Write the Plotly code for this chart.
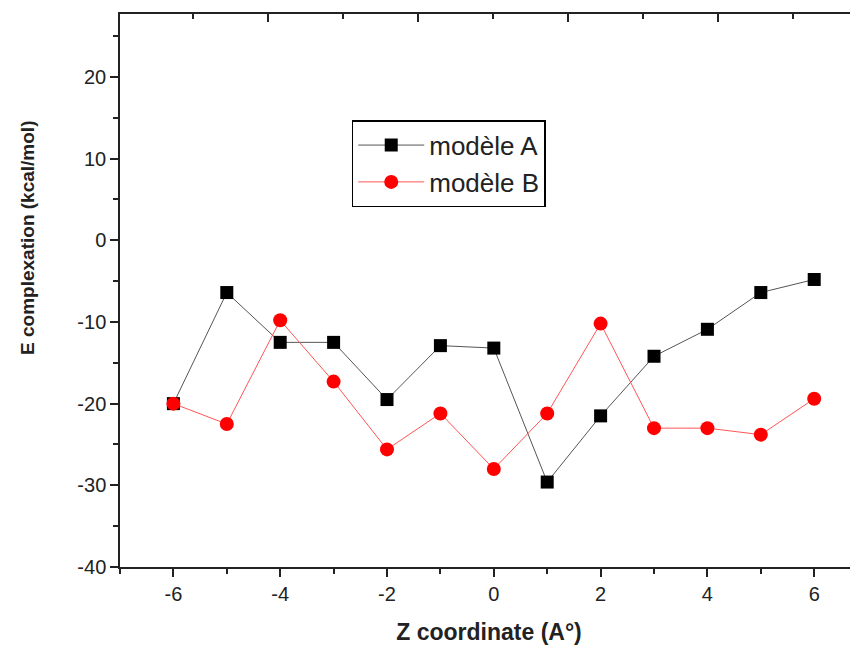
import plotly.graph_objects as go

z = [-6, -5, -4, -3, -2, -1, 0, 1, 2, 3, 4, 5, 6]
model_a = [-20.0, -6.4, -12.5, -12.5, -19.5, -12.9, -13.2, -29.6, -21.5, -14.2, -10.9, -6.4, -4.8]
model_b = [-20.0, -22.5, -9.8, -17.3, -25.6, -21.2, -28.0, -21.2, -10.2, -23.0, -23.0, -23.8, -19.4]

x_tickvals = [-6, -4, -2, 0, 2, 4, 6]
x_ticktext = ["-6", "-4", "-2", "0", "2", "4", "6"]
y_tickvals = [-40, -30, -20, -10, 0, 10, 20]
y_ticktext = ["-40", "-30", "-20", "-10", "0", "10", "20"]

FONT = "Liberation Sans, Arial, sans-serif"
INK = "#222222"

fig = go.Figure()
fig.add_trace(go.Scatter(x=z, y=model_a, mode="lines+markers", name="modèle A",
                         line=dict(color="#555555", width=1),
                         marker=dict(symbol="square", size=13, color="black")))
fig.add_trace(go.Scatter(x=z, y=model_b, mode="lines+markers", name="modèle B",
                         line=dict(color="#ff5555", width=1),
                         marker=dict(symbol="circle", size=14, color="#ff0000")))
# invisible traces to anchor the decorative top and right axes
fig.add_trace(go.Scatter(x=[0], y=[0], xaxis="x2", yaxis="y", mode="markers",
                         marker=dict(opacity=0), showlegend=False, hoverinfo="skip"))
fig.add_trace(go.Scatter(x=[0], y=[1], xaxis="x", yaxis="y2", mode="markers",
                         marker=dict(opacity=0), showlegend=False, hoverinfo="skip"))

fig.update_layout(
    width=850, height=647,
    margin=dict(l=112, r=0, t=6, b=88),
    paper_bgcolor="white", plot_bgcolor="white",
    font=dict(family=FONT, color=INK, size=20),
    showlegend=True,
    legend=dict(x=0.314, y=0.808, xanchor="left", yanchor="top",
                bordercolor="black", borderwidth=1.5, bgcolor="white",
                font=dict(family=FONT, size=26, color=INK),
                itemwidth=66, tracegroupgap=0),
    xaxis=dict(range=[-7, 6.82], domain=[0, 1], tickmode="array",
               tickvals=x_tickvals, ticktext=x_ticktext,
               ticks="outside", ticklen=8, tickwidth=1.5, tickcolor=INK,
               minor=dict(dtick=1, tick0=-7, ticks="outside", ticklen=5, tickwidth=1.5, tickcolor=INK),
               showline=True, linecolor=INK, linewidth=1.5, showgrid=False, zeroline=False,
               tickfont=dict(size=20),
               title=dict(text="<b>Z coordinate (A°)</b>", font=dict(size=23), standoff=20)),
    xaxis2=dict(overlaying="x", side="top", range=[-1.97, 7.86], tickmode="linear", tick0=0, dtick=2,
                ticks="inside", ticklen=8, tickwidth=1.5, tickcolor=INK,
                minor=dict(dtick=1, ticks="inside", ticklen=5, tickwidth=1.5, tickcolor=INK),
                showline=True, linecolor=INK, linewidth=1.5, showgrid=False, zeroline=False,
                showticklabels=False),
    yaxis=dict(range=[-40, 27.7], tickmode="array", tickvals=y_tickvals, ticktext=y_ticktext,
               ticks="outside", ticklen=8, tickwidth=1.5, tickcolor=INK,
               minor=dict(dtick=5, tick0=-40, ticks="outside", ticklen=5, tickwidth=1.5, tickcolor=INK),
               showline=True, linecolor=INK, linewidth=1.5, showgrid=False, zeroline=False,
               tickfont=dict(size=20)),
    yaxis2=dict(overlaying="y", side="right", range=[0, 4.98], tickmode="linear", tick0=0, dtick=1,
                ticks="inside", ticklen=3, tickwidth=1.5, tickcolor=INK,
                showline=False, showgrid=False, zeroline=False, showticklabels=False),
)

fig.add_annotation(text="<b>E complexation (kcal/mol)</b>", xref="paper", yref="paper",
                   x=-0.1247, y=0.595, xanchor="center", yanchor="middle",
                   textangle=-90, showarrow=False, font=dict(family=FONT, size=19, color=INK))

fig.write_html("out.html")
